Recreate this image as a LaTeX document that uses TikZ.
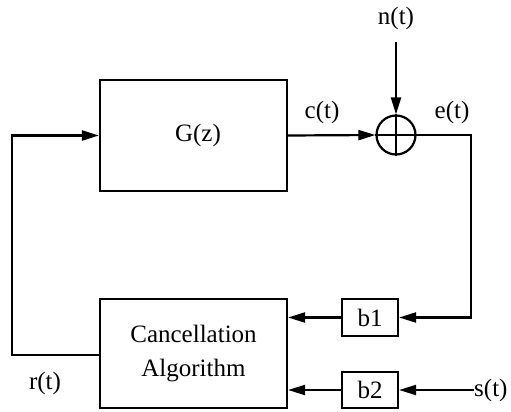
\documentclass[tikz,border=0pt]{standalone}
\usepackage{fontspec}
\setmainfont{Liberation Serif}
\usetikzlibrary{arrows.meta}
\begin{document}
\begin{tikzpicture}[x=1pt,y=-1pt,
  every node/.style={font=\fontsize{25}{30}\selectfont},
  blk/.style={draw,line width=2.2pt,inner sep=0pt},
  ln/.style={line width=2.2pt},
  arr/.style={ln,-{Triangle[length=17pt,width=10pt]}},
  lbl/.style={inner sep=0pt}]
\useasboundingbox (0,0) rectangle (511,412);
\node[blk,minimum width=187pt,minimum height=111pt] (G) at (193.5,135.5) {\hspace{9pt}G(z)};
\node[blk,minimum width=187pt,minimum height=109pt,align=center] (C) at (193.5,353.5) {Cancellation\\[4pt]Algorithm};
\node[blk,minimum width=56pt,minimum height=37pt] (b1) at (370,317.5) {b1};
\node[blk,minimum width=56pt,minimum height=36pt] (b2) at (370,390) {b2};
\node[draw,circle,line width=2.2pt,minimum size=39pt,inner sep=0pt] (S) at (396,135) {};
\draw[ln] (S.north) -- (S.south);
\draw[ln] (S.west) -- (S.east);
\node[lbl] (nt) at (396,18) {n(t)};
\node[lbl] (ct) at (322,112) {c(t)};
\node[lbl] (et) at (452,112) {e(t)};
\node[lbl] (rt) at (45,383) {r(t)};
\node[lbl,anchor=west] (st) at (474,390) {s(t)};
\coordinate (nin) at (396,42);
\coordinate (rc) at (471,135);
\coordinate (rb) at (471,317.5);
\coordinate (lb) at (12,355);
\coordinate (lt) at (12,135.5);
\draw[arr] (G.east) -- (S.west);
\draw[arr] (nin) -- (S.north);
\draw[arr] (S.east) -- (rc) -- (rb) -- (b1.east);
\draw[arr] (b1.west) -- (C.east |- b1.west);
\draw[arr] (b2.west) -- (C.east |- b2.west);
\draw[arr] (st.west) -- (b2.east);
\draw[arr] (C.west |- lb) -- (lb) -- (lt) -- (G.west);
\end{tikzpicture}
\end{document}
